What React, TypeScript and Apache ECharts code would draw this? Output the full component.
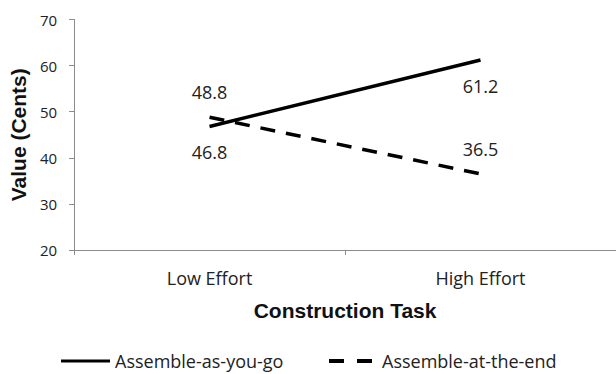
import React, { useEffect, useRef } from "react";
import * as echarts from "echarts";

const categories = ["Low Effort", "High Effort"];
const seriesNames = ["Assemble-as-you-go", "Assemble-at-the-end"];
const asYouGo = [46.8, 61.2];
const atTheEnd = [48.8, 36.5];
const yMin = 20;
const yMax = 70;
const yInterval = 10;

export default function App() {
  const ref = useRef<HTMLDivElement>(null);
  useEffect(() => {
    if (!ref.current) return;
    const chart = echarts.init(ref.current, null, { renderer: "svg" });
    const labelFont = { fontFamily: "Open Sans", fontSize: 18, color: "#222" };
    chart.setOption({
      animation: false,
      backgroundColor: "#fff",
      grid: { left: 71, top: 19.5, width: 548, height: 230.5 },
      xAxis: {
        type: "category",
        data: categories,
        boundaryGap: true,
        name: "Construction Task",
        nameLocation: "middle",
        nameGap: 50,
        nameTextStyle: { fontFamily: "Liberation Sans", fontWeight: "bold", fontSize: 21, color: "#111" },
        axisLine: { lineStyle: { color: "#8c8c8c", width: 1 } },
        axisTick: { show: true, length: 5, lineStyle: { color: "#8c8c8c" } },
        axisLabel: { margin: 19, fontFamily: "Open Sans", fontSize: 18, color: "#222" },
      },
      yAxis: {
        type: "value",
        min: yMin,
        max: yMax,
        interval: yInterval,
        name: "Value (Cents)",
        nameLocation: "middle",
        nameGap: 40,
        nameTextStyle: { fontFamily: "Liberation Sans", fontWeight: "bold", fontSize: 21, color: "#111" },
        axisLine: { show: true, lineStyle: { color: "#8c8c8c", width: 1 } },
        axisTick: { show: true, length: 5, lineStyle: { color: "#8c8c8c" } },
        splitLine: { show: false },
        axisLabel: { margin: 17, fontFamily: "Open Sans", fontSize: 15, color: "#222" },
      },
      legend: [
        {
          data: [{ name: seriesNames[0], icon: "rect" }],
          left: 61,
          top: 352,
          padding: 0,
          itemWidth: 49,
          itemHeight: 3,
          textStyle: { fontFamily: "Open Sans", fontSize: 18, color: "#222" },
        },
        {
          data: [{ name: seriesNames[1], icon: "path://M0,0H15V4H0Z M28,0H43V4H28Z" }],
          left: 329,
          top: 352,
          padding: 0,
          itemWidth: 43,
          itemHeight: 4,
          textStyle: { fontFamily: "Open Sans", fontSize: 18, color: "#222", padding: [0, 0, 0, 5] },
        },
      ],
      series: [
        {
          name: seriesNames[0],
          type: "line",
          data: asYouGo,
          symbol: "circle",
          symbolSize: 0,
          showSymbol: true,
          itemStyle: { color: "#000" },
          lineStyle: { color: "#000", width: 3.5 },
          label: { show: true, position: "bottom", distance: 17, ...labelFont },
        },
        {
          name: seriesNames[1],
          type: "line",
          data: atTheEnd,
          symbol: "circle",
          symbolSize: 0,
          showSymbol: true,
          itemStyle: { color: "#000" },
          lineStyle: { color: "#000", width: 3.5, type: [15, 11] },
          label: { show: true, position: "top", distance: 16, ...labelFont },
        },
      ],
    });
    return () => chart.dispose();
  }, []);
  return (
    <div
      ref={ref}
      style={{ position: "absolute", left: 0, top: 0, width: 616, height: 374, background: "#fff" }}
    />
  );
}
